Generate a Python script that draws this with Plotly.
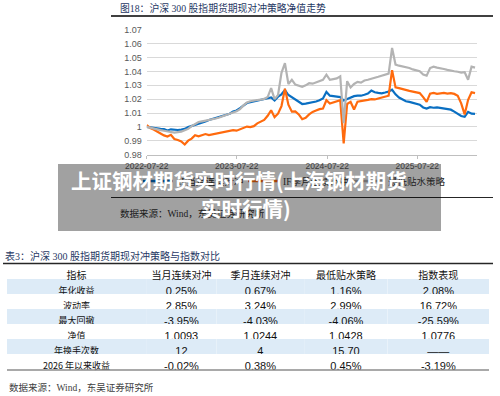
import plotly.graph_objects as go
import pandas as pd

# ---------------- data ----------------
dates = pd.date_range("2022-07-22", periods=96, freq="14D")

blue_month = [
    1.0000, 0.9995, 0.9992, 0.9988, 0.9985, 0.9983, 0.9974, 0.9982, 0.9979, 0.9977,
    0.9980, 0.9985, 0.9998, 1.0005, 1.0015, 1.0022, 1.0030, 1.0038, 1.0050, 1.0058,
    1.0065, 1.0070, 1.0078, 1.0088, 1.0095, 1.0110, 1.0118, 1.0135, 1.0155, 1.0172,
    1.0178, 1.0183, 1.0190, 1.0196, 1.0200, 1.0208, 1.0212, 1.0190, 1.0218, 1.0235,
    1.0265, 1.0230, 1.0215, 1.0195, 1.0185, 1.0165, 1.0168, 1.0172, 1.0178, 1.0183,
    1.0192, 1.0205, 1.0252, 1.0225, 1.0222, 1.0218, 1.0215, 1.0190, 1.0200, 1.0212,
    1.0222, 1.0225, 1.0225, 1.0232, 1.0240, 1.0262, 1.0250, 1.0245, 1.0242, 1.0248,
    1.0255, 1.0268, 1.0235, 1.0212, 1.0198, 1.0185, 1.0180, 1.0174, 1.0165, 1.0160,
    1.0140, 1.0132, 1.0142, 1.0138, 1.0140, 1.0136, 1.0135, 1.0130, 1.0124, 1.0110,
    1.0092, 1.0078, 1.0072, 1.0108, 1.0095, 1.0093,
]

orange_quarter = [
    1.0012, 0.9992, 0.9980, 0.9968, 0.9952, 0.9938, 0.9930, 0.9942, 0.9912, 0.9905,
    0.9895, 0.9872, 0.9900, 0.9915, 0.9940, 0.9932, 0.9938, 0.9948, 0.9940, 0.9945,
    0.9950, 0.9955, 0.9958, 0.9966, 0.9970, 0.9976, 0.9972, 0.9982, 0.9992, 1.0002,
    0.9998, 1.0005, 1.0025, 1.0038, 1.0050, 1.0080, 1.0120, 1.0070, 1.0095, 1.0150,
    1.0275, 1.0160, 1.0110, 1.0112, 1.0090, 1.0055, 1.0065, 1.0090, 1.0108, 1.0118,
    1.0128, 1.0132, 1.0192, 1.0168, 1.0175, 1.0182, 1.0192, 0.9880, 1.0165, 1.0180,
    1.0125, 1.0182, 1.0185, 1.0190, 1.0195, 1.0200, 1.0198, 1.0205, 1.0210, 1.0218,
    1.0225, 1.0410, 1.0285, 1.0280, 1.0272, 1.0265, 1.0260, 1.0255, 1.0250, 1.0244,
    1.0215, 1.0180, 1.0240, 1.0245, 1.0238, 1.0242, 1.0245, 1.0240, 1.0244, 1.0238,
    1.0225, 1.0170, 1.0090, 1.0195, 1.0250, 1.0244,
]

gray_lowbasis = [
    1.0000, 0.9993, 0.9986, 0.9980, 0.9976, 0.9972, 0.9968, 0.9962, 0.9958, 0.9962,
    0.9965, 0.9975, 0.9985, 1.0005, 1.0018, 1.0035, 1.0040, 1.0045, 1.0050, 1.0052,
    1.0060, 1.0068, 1.0078, 1.0086, 1.0095, 1.0104, 1.0112, 1.0128, 1.0155, 1.0176,
    1.0185, 1.0192, 1.0194, 1.0196, 1.0202, 1.0215, 1.0280, 1.0200, 1.0230, 1.0390,
    1.0460, 1.0310, 1.0340, 1.0305, 1.0298, 1.0290, 1.0300, 1.0315, 1.0312, 1.0320,
    1.0330, 1.0340, 1.0377, 1.0340, 1.0345, 1.0350, 1.0365, 1.0027, 1.0330, 1.0285,
    1.0310, 1.0325, 1.0320, 1.0335, 1.0340, 1.0350, 1.0355, 1.0362, 1.0368, 1.0375,
    1.0385, 1.0570, 1.0450, 1.0442, 1.0438, 1.0430, 1.0425, 1.0415, 1.0408, 1.0402,
    1.0378, 1.0370, 1.0425, 1.0435, 1.0428, 1.0425, 1.0418, 1.0412, 1.0405, 1.0402,
    1.0398, 1.0392, 1.0395, 1.0340, 1.0435, 1.0428,
]

series_names = ["IF当月连续对冲", "IF季月连续对冲", "最低贴水策略"]
x_tick_dates = ["2022-07-22", "2023-07-22", "2024-07-22", "2025-07-22"]

table_header = ["指标", "当月连续对冲", "季月连续对冲", "最低贴水策略", "指数表现"]
table_rows = ["年化收益", "波动率", "最大回撤", "净值", "年换手次数", "2026 年以来收益"]
col_month = ["0.25%", "2.85%", "-3.95%", "1.0093", "12", "-0.02%"]
col_quarter = ["0.67%", "3.24%", "-4.03%", "1.0244", "4", "0.38%"]
col_lowbasis = ["1.16%", "2.99%", "-4.06%", "1.0428", "15.70", "0.45%"]
col_index = ["2.08%", "16.72%", "-25.59%", "1.0776", "——", "-3.19%"]

chart_title = "图18：沪深 300 股指期货期现对冲策略净值走势"
table_title = "表3：沪深 300 股指期货期现对冲策略与指数对比"
source_text = "数据来源：Wind，东吴证券研究所"
banner_line1 = "上证钢材期货实时行情(上海钢材期货"
banner_line2 = "实时行情)"

# ---------------- figure ----------------
W, H = 500, 396
def px(x):
    return x / W
def py(y):
    return 1 - y / H

CJK = "Noto Sans CJK SC"
SERIF_CJK = "Liberation Serif, Noto Sans CJK SC"
line_colors = ["#0a6fc2", "#ff6a0d", "#b3b3b3"]
dim_colors = ["#06467a", "#a14308", "#717171"]

fig = go.Figure()
for vals, name, col in zip([blue_month, orange_quarter, gray_lowbasis], series_names, line_colors):
    fig.add_trace(go.Scatter(x=dates, y=vals, mode="lines", name=name,
                             line=dict(color=col, width=2.2), showlegend=False,
                             hoverinfo="skip"))
# legend entries (legend sits under the grey banner, so colours are dimmed)
for name, col in zip(series_names, dim_colors):
    fig.add_trace(go.Scatter(x=[None], y=[None], mode="lines", name=name,
                             line=dict(color=col, width=2.5), showlegend=True))

fig.add_trace(go.Table(
    domain=dict(x=[px(7), px(489)], y=[0.0, py(263)]),
    columnwidth=[140, 71, 88, 84, 102],
    header=dict(values=table_header, height=16, align="center",
                fill=dict(color="white"), line=dict(color="rgba(0,0,0,0)", width=0),
                font=dict(family=CJK, size=10, color="#111111")),
    cells=dict(values=[table_rows, col_month, col_quarter, col_lowbasis, col_index],
               height=15, align="center",
               fill=dict(color=[["#ddebf7", "white", "#ddebf7", "white", "#ddebf7", "white"]] * 5),
               line=dict(color="rgba(0,0,0,0)", width=0),
               font=dict(family=[CJK, "Liberation Sans", "Liberation Sans", "Liberation Sans", "Liberation Sans"],
                         size=[9, 11, 11, 11, 11], color="#111111")),
))

fig.update_layout(
    width=W, height=H, autosize=False,
    margin=dict(l=0, r=0, t=0, b=0, autoexpand=False),
    paper_bgcolor="white", plot_bgcolor="white",
    showlegend=True,
    legend=dict(orientation="h", x=px(138), y=py(181), xanchor="left", yanchor="middle",
                bgcolor="rgba(0,0,0,0)", font=dict(family=SERIF_CJK, size=9.5, color="#222222"),
                entrywidth=60, entrywidthmode="pixels", itemwidth=30),
    xaxis=dict(domain=[px(146.7), px(476.5)], type="date", automargin=False,
               range=["2022-07-22", "2026-03-19"],
               tickvals=x_tick_dates, ticktext=x_tick_dates,
               showgrid=False, zeroline=False,
               showline=True, linecolor="#bfbfbf", linewidth=1,
               ticks="outside", ticklen=3, tickcolor="#bfbfbf",
               tickfont=dict(family="Liberation Sans", size=8.5, color="#595959")),
    yaxis=dict(domain=[py(154.5), py(30)], range=[0.98, 1.07], dtick=0.01, tick0=0.98,
               automargin=False,
               showgrid=True, gridcolor="#d9d9d9", gridwidth=1,
               zeroline=False, showline=False, ticks="",
               ticklabelstandoff=4,
               tickfont=dict(family="Liberation Sans", size=9, color="#595959")),
)

shapes = [
    dict(type="line", xref="paper", yref="paper", x0=px(111), x1=px(493), y0=py(16), y1=py(16),
         line=dict(color="#404040", width=2)),
    dict(type="line", xref="paper", yref="paper", x0=px(111), x1=px(493), y0=py(197.5), y1=py(197.5),
         line=dict(color="#262626", width=1.2)),
    dict(type="line", xref="paper", yref="paper", x0=px(3), x1=px(493), y0=py(263.5), y1=py(263.5),
         line=dict(color="#262626", width=1.6)),
    dict(type="line", xref="paper", yref="paper", x0=px(7), x1=px(489), y0=py(370), y1=py(370),
         line=dict(color="#8c8c8c", width=1.5)),
    # grey overlay banner
    dict(type="rect", xref="paper", yref="paper", x0=px(58), x1=px(441), y0=py(231), y1=py(164),
         fillcolor="rgba(0,0,0,0.37)", line=dict(width=0), layer="above"),
]
fig.update_layout(shapes=shapes)

annos = [
    dict(text=chart_title, x=px(118), y=py(8.5), xanchor="left", yanchor="middle",
         font=dict(family=SERIF_CJK, size=9.8, color="#1f3864")),
    dict(text=source_text, x=px(118), y=py(213), xanchor="left", yanchor="middle",
         font=dict(family=SERIF_CJK, size=9.5, color="#1a1a1a")),
    dict(text=table_title, x=px(3), y=py(256), xanchor="left", yanchor="middle",
         font=dict(family=SERIF_CJK, size=10, color="#1f3864")),
    dict(text=source_text, x=px(7), y=py(387), xanchor="left", yanchor="middle",
         font=dict(family=SERIF_CJK, size=9.5, color="#404040")),
    dict(text="<b>" + banner_line1 + "</b>", x=px(239), y=py(180), xanchor="center", yanchor="middle",
         font=dict(family=CJK, size=20.5, color="white")),
    dict(text="<b>" + banner_line2 + "</b>", x=px(246), y=py(208), xanchor="center", yanchor="middle",
         font=dict(family=CJK, size=20.5, color="white")),
]
for a in annos:
    a.update(xref="paper", yref="paper", showarrow=False)
fig.update_layout(annotations=annos)

fig.write_html("out.html", config={"displayModeBar": False},
               post_script="document.body.style.margin='0';document.body.style.padding='0';")
